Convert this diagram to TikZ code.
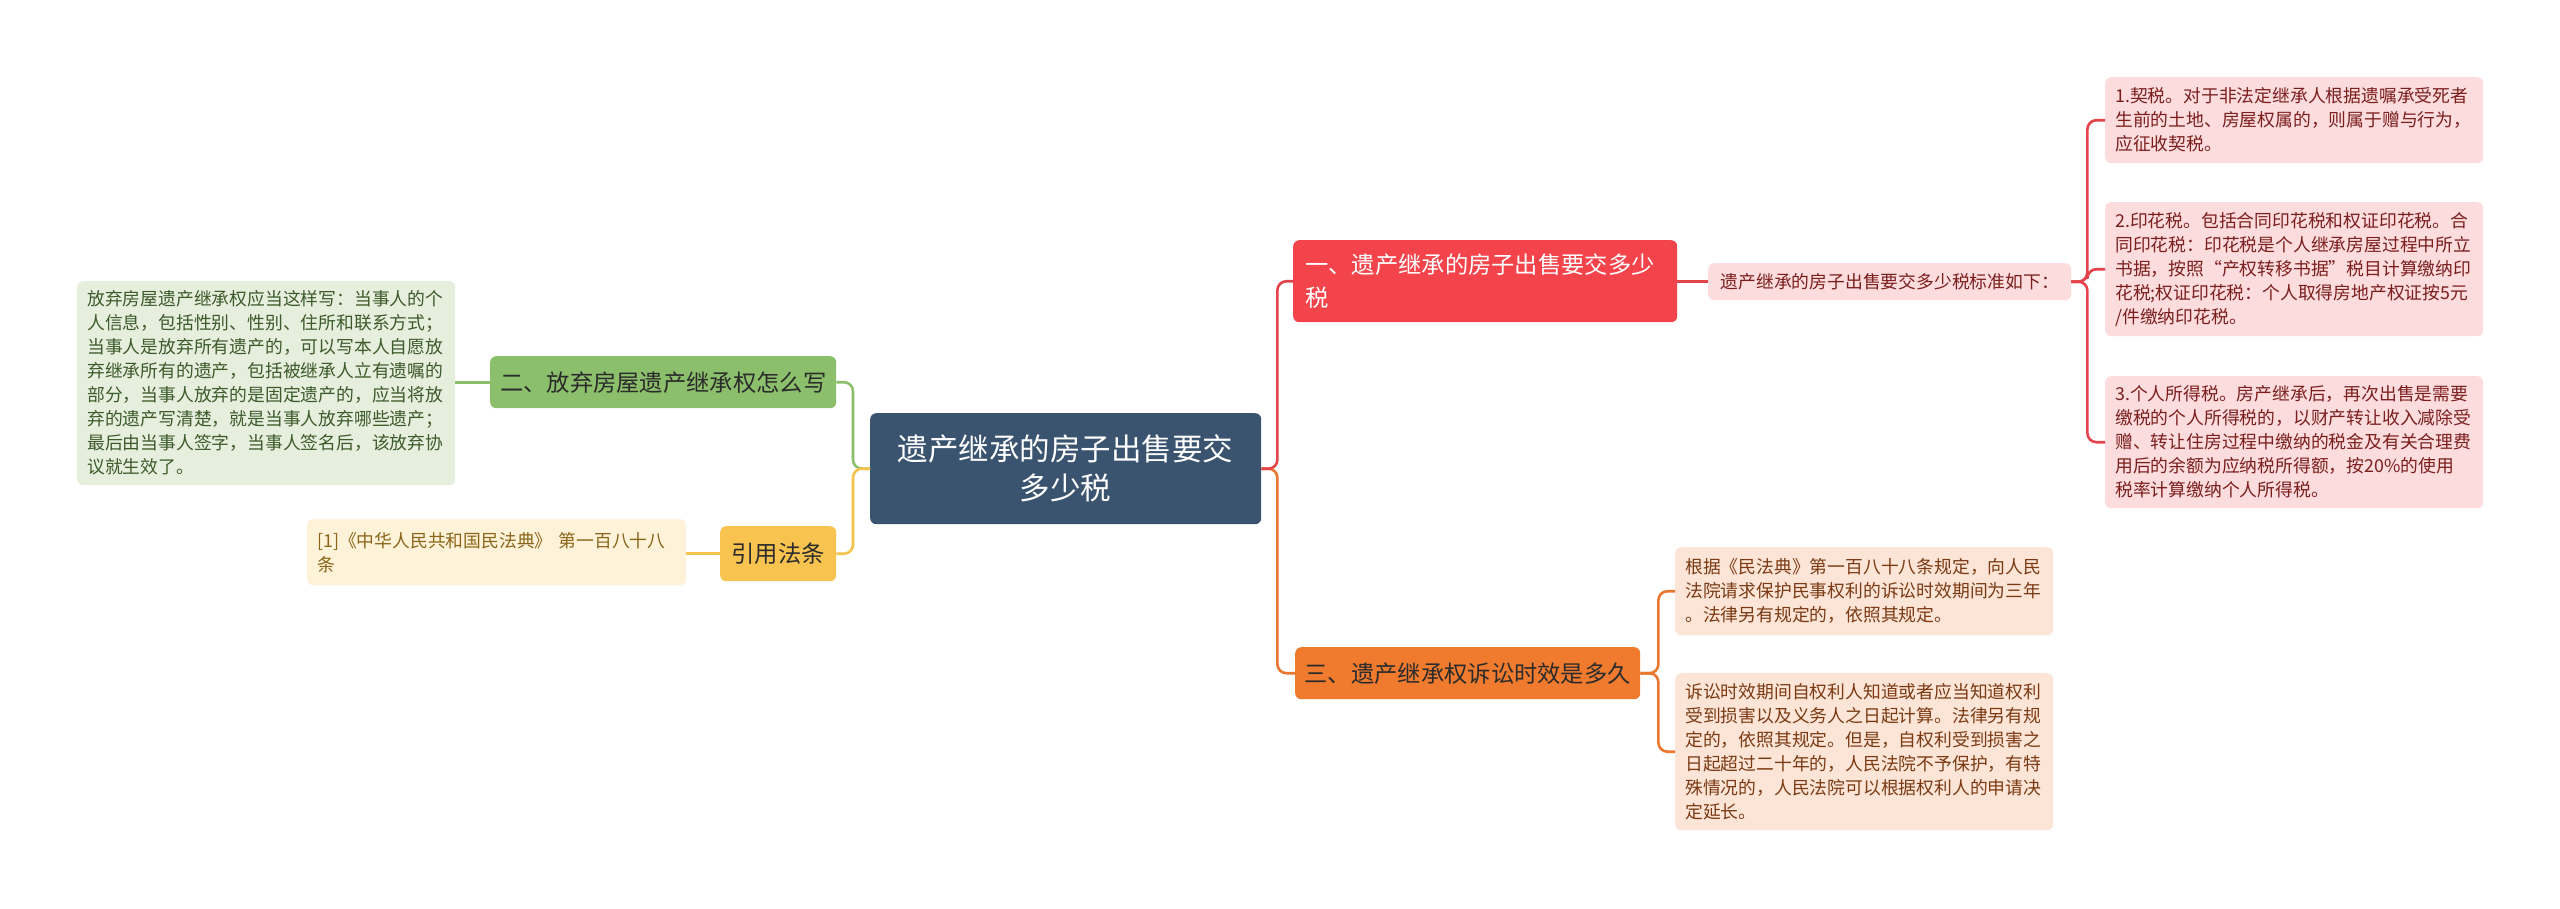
\documentclass[tikz,border=0pt]{standalone}
\usepackage{fontspec}
\newfontfamily\cjk{Noto Sans CJK SC}
\newcommand\fsz[2]{\fontsize{#1}{#2}\selectfont}
\definecolor{cblue}{HTML}{3A5470}
\definecolor{cred}{HTML}{F4444B}
\definecolor{credline}{HTML}{E3434A}
\definecolor{cpink}{HTML}{FCDCDD}
\definecolor{cpinktext}{HTML}{7B1E1E}
\definecolor{corange}{HTML}{F07B2F}
\definecolor{corangeline}{HTML}{E9772E}
\definecolor{cpeach}{HTML}{FCE4D6}
\definecolor{cpeachtext}{HTML}{7A3A13}
\definecolor{cgreen}{HTML}{8CBF6C}
\definecolor{cgreenline}{HTML}{8CBF6C}
\definecolor{cgreenleaf}{HTML}{E6EFDD}
\definecolor{cgreentext}{HTML}{3C5A2A}
\definecolor{cyellow}{HTML}{F8C34F}
\definecolor{cyellowline}{HTML}{F5C24B}
\definecolor{cyellowleaf}{HTML}{FEF2D9}
\definecolor{cyellowtext}{HTML}{8A6518}
\definecolor{cdark}{HTML}{2B2B2B}
\tikzset{
  box/.style={rounded corners=6pt, anchor=north west, inner ysep=0pt, font=\cjk},
  mainbox/.style={box, fill=cblue, text=white, align=center, inner xsep=0pt, font=\cjk\fsz{30.5}{39}},
  topicbox/.style={box, inner xsep=0pt, align=center, font=\cjk\fsz{23.3}{30}},
  leafbox/.style={box, inner xsep=10pt, align=left, text width=358pt, font=\cjk\fsz{17.8}{24}},
  conn/.style={line width=2.6pt, rounded corners=9pt, line join=round},
}
\begin{document}
\begin{tikzpicture}[x=1pt,y=-1pt]
\fill[white] (0,0) rectangle (2560,908);
\useasboundingbox (0,0) rectangle (2560,908);

% center
\node[mainbox, minimum width=391pt, minimum height=111pt] (c) at (870,413) {遗产继承的房子出售要交\\多少税};

% right upper branch
\node[box, fill=cred, text=white, align=left, inner xsep=12pt, text width=360pt, minimum height=82pt, font=\cjk\fsz{23.3}{33}] (n1) at (1293,240) {一、遗产继承的房子出售要交多少\\税};
\node[box, fill=cpink, text=cpinktext, inner xsep=0pt, minimum width=363pt, minimum height=37pt, font=\cjk\fsz{17.8}{24}] (mid) at (1708,263) {遗产继承的房子出售要交多少税标准如下：};
\node[leafbox, fill=cpink, text=cpinktext, minimum height=86pt] (l1) at (2105,77) {1.契税。对于非法定继承人根据遗嘱承受死者\\生前的土地、房屋权属的，则属于赠与行为，\\应征收契税。};
\node[leafbox, fill=cpink, text=cpinktext, minimum height=134pt] (l2) at (2105,202) {2.印花税。包括合同印花税和权证印花税。合\\同印花税：印花税是个人继承房屋过程中所立\\书据，按照“产权转移书据”税目计算缴纳印\\花税;权证印花税：个人取得房地产权证按5元\\/件缴纳印花税。};
\node[leafbox, fill=cpink, text=cpinktext, minimum height=132pt] (l3) at (2105,376) {3.个人所得税。房产继承后，再次出售是需要\\缴税的个人所得税的，以财产转让收入减除受\\赠、转让住房过程中缴纳的税金及有关合理费\\用后的余额为应纳税所得额，按20\%的使用\\税率计算缴纳个人所得税。};

% right lower branch
\node[topicbox, fill=corange, text=cdark, minimum width=345pt, minimum height=52pt] (n3) at (1295,647) {三、遗产继承权诉讼时效是多久};
\node[leafbox, fill=cpeach, text=cpeachtext, minimum height=88pt] (la) at (1675,547) {根据《民法典》第一百八十八条规定，向人民\\法院请求保护民事权利的诉讼时效期间为三年\\。法律另有规定的，依照其规定。};
\node[leafbox, fill=cpeach, text=cpeachtext, minimum height=157pt] (lb) at (1675,673) {诉讼时效期间自权利人知道或者应当知道权利\\受到损害以及义务人之日起计算。法律另有规\\定的，依照其规定。但是，自权利受到损害之\\日起超过二十年的，人民法院不予保护，有特\\殊情况的，人民法院可以根据权利人的申请决\\定延长。};

% left upper branch
\node[topicbox, fill=cgreen, text=cdark, minimum width=346pt, minimum height=52pt] (n2) at (490,356) {二、放弃房屋遗产继承权怎么写};
\node[leafbox, fill=cgreenleaf, text=cgreentext, minimum height=204pt] (gl) at (77,281) {放弃房屋遗产继承权应当这样写：当事人的个\\人信息，包括性别、性别、住所和联系方式；\\当事人是放弃所有遗产的，可以写本人自愿放\\弃继承所有的遗产，包括被继承人立有遗嘱的\\部分，当事人放弃的是固定遗产的，应当将放\\弃的遗产写清楚，就是当事人放弃哪些遗产；\\最后由当事人签字，当事人签名后，该放弃协\\议就生效了。};

% left lower branch
\node[topicbox, fill=cyellow, text=cdark, minimum width=116pt, minimum height=55pt] (ny) at (720,526) {引用法条};
\node[leafbox, fill=cyellowleaf, text=cyellowtext, text width=359pt, minimum height=66pt] (yl) at (307,519) {[1]《中华人民共和国民法典》 第一百八十八\\条};

% connectors
\draw[conn, corangeline] (c.east) -- ++(16,0) |- (n3.west);
\draw[conn, credline] (c.east) -- ++(16,0) |- (n1.west);
\draw[conn, credline] (n1.east) -- (n1.east -| mid.west);
\draw[conn, credline] (mid.east) -- ++(16,0) |- (l1.west);
\draw[conn, credline] (mid.east) -- ++(16,0) |- (l2.west);
\draw[conn, credline] (mid.east) -- ++(16,0) |- (l3.west);
\draw[conn, corangeline] (n3.east) -- ++(18,0) |- (la.west);
\draw[conn, corangeline] (n3.east) -- ++(18,0) |- (lb.west);
\draw[conn, cgreenline] (c.west) -- ++(-17,0) |- (n2.east);
\draw[conn, cyellowline] (c.west) -- ++(-17,0) |- (ny.east);
\draw[conn, cgreenline] (n2.west) -- (n2.west -| gl.east);
\draw[conn, cyellowline] (ny.west) -- (ny.west -| yl.east);
\end{tikzpicture}
\end{document}
